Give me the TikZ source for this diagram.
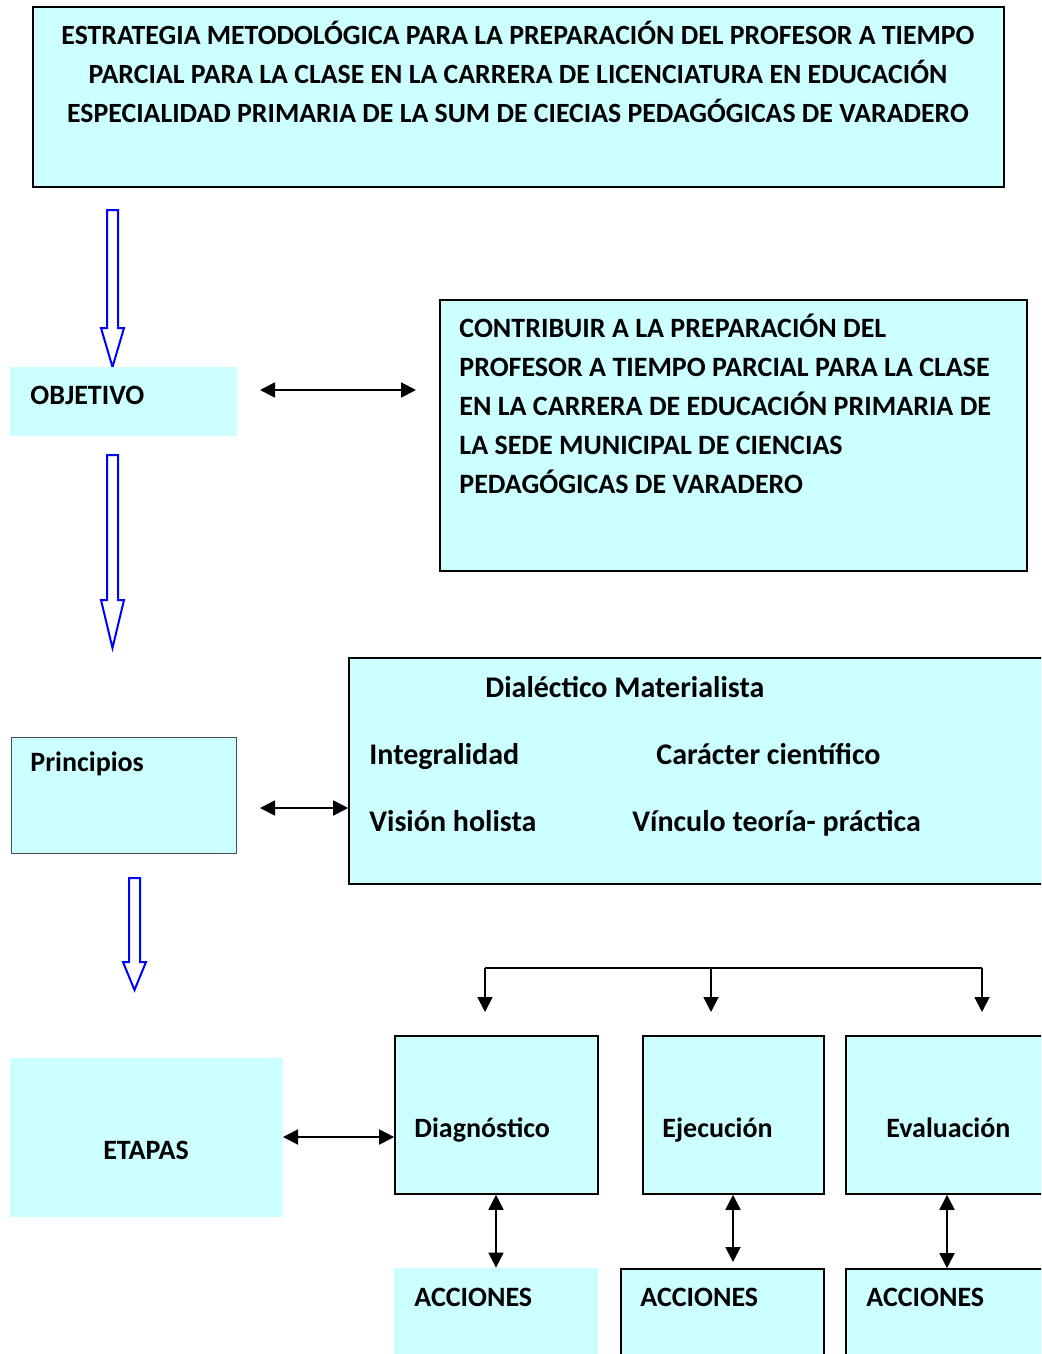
\documentclass[tikz,border=0pt]{standalone}
\usepackage{fontspec}
\setmainfont{Carlito}
\usetikzlibrary{arrows.meta,fit}
\definecolor{boxfill}{HTML}{CCFFFF}
\tikzset{
  bordered/.style={draw=black, line width=0.8pt, fill=boxfill, inner sep=0pt},
  plain/.style={fill=boxfill, inner sep=0pt},
  thinbox/.style={draw=black!70, line width=0.5pt, fill=boxfill, inner sep=0pt},
  lbl/.style={inner sep=0pt, font=\bfseries\fontsize{14pt}{19.5pt}\selectfont},
  biglbl/.style={inner sep=0pt, font=\bfseries\fontsize{15pt}{19.5pt}\selectfont},
  dbl/.style={{Triangle[length=7.5pt,width=7.5pt]}-{Triangle[length=7.5pt,width=7.5pt]}, line width=0.9pt},
  sgl/.style={-{Triangle[length=7.5pt,width=7.5pt]}, line width=0.9pt},
  blockarrow/.style={draw=blue, line width=1pt, fill=white, line join=miter}
}
\begin{document}
\begin{tikzpicture}[x=0.5pt,y=-0.5pt]
\clip (0,0) rectangle (1041,1354);
\fill[white] (0,0) rectangle (1041,1354);

% title
\node[bordered, fit={(33,7) (1004,187)}] (title) {};
\node[lbl, align=center, font=\bfseries\fontsize{13.9pt}{19.5pt}\selectfont] (titletxt) at (518,72) {ESTRATEGIA METODOLÓGICA PARA LA PREPARACIÓN DEL PROFESOR A TIEMPO\\PARCIAL PARA LA CLASE EN LA CARRERA DE LICENCIATURA EN EDUCACIÓN\\ESPECIALIDAD PRIMARIA DE LA SUM DE CIECIAS PEDAGÓGICAS DE VARADERO};

% blue arrow 1
\draw[blockarrow] (107,210) -- (118,210) -- (118,328) -- (124,328) -- (112.5,367) -- (101,328) -- (107,328) -- cycle;

% objetivo
\node[plain, fit={(10,367) (237,436)}] (obj) {};
\node[lbl, anchor=west] (objtxt) at (30,395) {OBJETIVO};

% contribuir
\node[bordered, fit={(440,300) (1027,571)}] (contr) {};
\node[lbl, anchor=west, align=left] (contrtxt) at (459,404) {CONTRIBUIR A LA PREPARACIÓN DEL\\PROFESOR A TIEMPO PARCIAL PARA LA CLASE\\EN LA CARRERA DE EDUCACIÓN PRIMARIA DE\\LA SEDE MUNICIPAL DE CIENCIAS\\PEDAGÓGICAS DE VARADERO};

\coordinate (a1s) at (260,390);
\coordinate (a1e) at (416,390);
\draw[dbl] (a1s) -- (a1e);

% blue arrow 2
\draw[blockarrow] (107,455) -- (118,455) -- (118,600) -- (124,600) -- (112.5,648) -- (101,600) -- (107,600) -- cycle;

% principios
\node[thinbox, fit={(11,737) (236,853)}] (princ) {};
\node[lbl, anchor=west] (princtxt) at (30,764) {Principios};

\node[bordered, fit={(349,658) (1050,884)}] (dial) {};
\node[biglbl, anchor=base west] at (485,697) {Dialéctico Materialista};
\node[biglbl, anchor=base west] at (369,764) {Integralidad};
\node[biglbl, anchor=base west] at (656,764) {Carácter científico};
\node[biglbl, anchor=base west] at (369,831) {Visión holista};
\node[biglbl, anchor=base west] at (632,831) {Vínculo teoría- práctica};

\coordinate (a2s) at (260,808);
\draw[dbl] (a2s) -- (dial.west |- a2s);

% blue arrow 3
\draw[blockarrow] (129,878) -- (140,878) -- (140,962) -- (146,962) -- (134.5,990) -- (123,962) -- (129,962) -- cycle;

% etapas
\node[plain, fit={(10,1058) (283,1217)}] (etapas) {};
\node[lbl] (etapastxt) at (146,1150) {ETAPAS};

\node[bordered, fit={(395,1036) (598,1194)}] (diag) {};
\node[lbl, anchor=base west] at (414,1137) {Diagnóstico};
\node[bordered, fit={(643,1036) (824,1194)}] (ejec) {};
\node[lbl, anchor=base west] at (662,1137) {Ejecución};
\node[bordered, fit={(846,1036) (1060,1194)}] (eval) {};
\node[lbl, anchor=base west] at (886,1137) {Evaluación};

\coordinate (a3s) at (283,1137);
\draw[dbl] (a3s) -- (diag.west |- a3s);

% tree
\coordinate (tl) at (485,968);
\coordinate (tm) at (711,968);
\coordinate (tr) at (982,968);
\coordinate (el) at (485,1012);
\coordinate (em) at (711,1012);
\coordinate (er) at (982,1012);
\draw[line width=0.9pt] (tl) -- (tr);
\draw[sgl] (tl) -- (el);
\draw[sgl] (tm) -- (em);
\draw[sgl] (tr) -- (er);

% acciones
\node[plain, fit={(394,1268) (598,1370)}] (acc1) {};
\node[lbl, anchor=west] at (414,1297) {ACCIONES};
\node[bordered, fit={(621,1269) (824,1370)}] (acc2) {};
\node[lbl, anchor=west] at (640,1297) {ACCIONES};
\node[bordered, fit={(846,1269) (1060,1370)}] (acc3) {};
\node[lbl, anchor=west] at (866,1297) {ACCIONES};

\coordinate (v2e) at (733,1262);
\draw[dbl] (diag.south -| 496,0) -- (acc1.north -| 496,0);
\draw[dbl] (ejec.south -| v2e) -- (v2e);
\draw[dbl] (eval.south -| 947,0) -- (acc3.north -| 947,0);
\end{tikzpicture}
\end{document}
